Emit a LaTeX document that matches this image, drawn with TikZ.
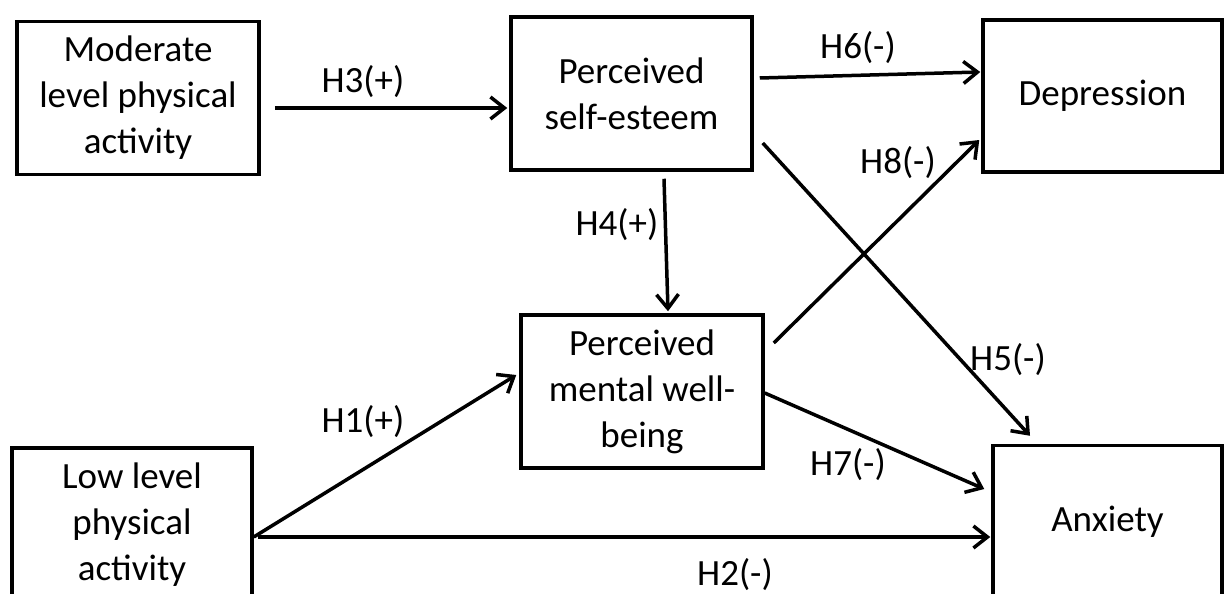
\documentclass[tikz,border=0pt]{standalone}
\usepackage{fontspec}
\setmainfont{Carlito}
\usetikzlibrary{arrows.meta}
\begin{document}
\begin{tikzpicture}[x=1pt,y=-1pt,
  box/.style={draw,line width=3.5pt,rectangle,align=center,inner sep=0pt,font=\fontsize{37}{46}\selectfont},
  arr/.style={line width=3.5pt,-{Straight Barb[length=14pt,width=22pt]}},
  lab/.style={font=\fontsize{37}{46}\selectfont,inner sep=0pt}]
\useasboundingbox (0,0) rectangle (1224,594);
\node[box,minimum width=242pt,minimum height=153pt] (mod) at (138,98) {Moderate\\level physical\\activity};
\node[box,minimum width=241pt,minimum height=153pt] (ses) at (631.5,93.5) {Perceived\\self-esteem};
\node[box,minimum width=239pt,minimum height=152pt] (dep) at (1102.5,96) {Depression};
\node[box,minimum width=242pt,minimum height=153pt] (mwb) at (642,391.5) {Perceived\\mental well-\\being};
\node[box,minimum width=240pt,minimum height=153pt] (low) at (132,524.5) {Low level\\physical\\activity};
\node[box,minimum width=229pt,minimum height=153pt] (anx) at (1107.5,522) {Anxiety};

\draw[arr] ([shift={(14,10)}]mod.east) -- ([shift={(-2,14.5)}]ses.west);
\draw[arr] ([shift={(6,-15.5)}]ses.east) -- ([shift={(-1,-24)}]dep.west);
\draw[arr] ([shift={(32.5,7)}]ses.south) -- ([shift={(26,-2)}]mwb.north);
\draw[arr] ([shift={(9,49.5)}]ses.east) -- ([shift={(-77.5,-8)}]anx.north);
\draw[arr] ([shift={(9,-48.5)}]mwb.east) -- ([shift={(-2,44)}]dep.west);
\draw[arr] ([shift={(0,12.5)}]low.east) -- ([shift={(-3,-16.5)}]mwb.west);
\draw[arr] ([shift={(0,1.5)}]mwb.east) -- ([shift={(-7,-33)}]anx.west);
\draw[arr] ([shift={(4,12.5)}]low.east) -- ([shift={(-1,15)}]anx.west);

\node[lab] (l3) at (363,82) {H3(+)};
\node[lab] (l6) at (858,48) {H6(-)};
\node[lab] (l4) at (617,225) {H4(+)};
\node[lab] (l8) at (898,163) {H8(-)};
\node[lab] (l1) at (363,422) {H1(+)};
\node[lab] (l5) at (1008,360) {H5(-)};
\node[lab] (l7) at (848,465) {H7(-)};
\node[lab] (l2) at (735,575) {H2(-)};
\end{tikzpicture}
\end{document}
